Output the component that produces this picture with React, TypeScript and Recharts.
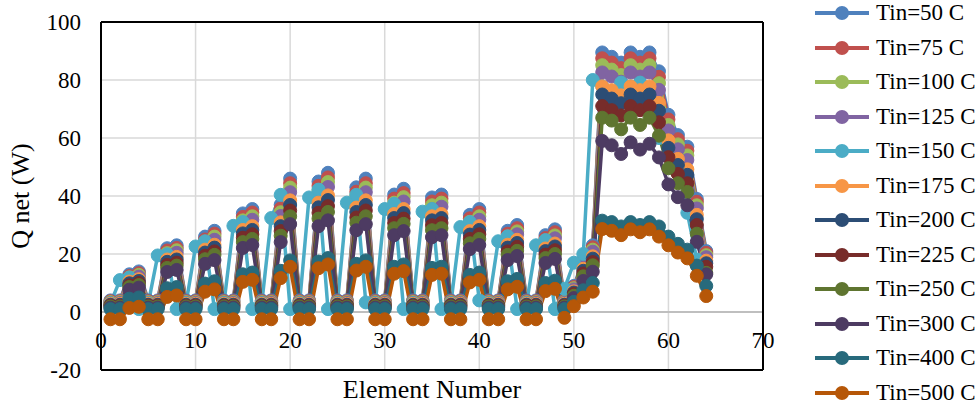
import { CartesianGrid, Legend, Line, LineChart, ReferenceLine, XAxis, YAxis } from "recharts";

const FONT = '"Liberation Serif", "Times New Roman", serif';

const elements = [
  1, 2, 3, 4, 5, 6, 7, 8, 9, 10, 11, 12, 13, 14, 15, 16, 17, 18, 19, 20, 21, 22, 23, 24, 25, 26, 27, 28, 29, 30, 31, 32,
  33, 34, 35, 36, 37, 38, 39, 40, 41, 42, 43, 44, 45, 46, 47, 48, 49, 50, 51, 52, 53, 54, 55, 56, 57, 58, 59, 60, 61, 62,
  63, 64,
];

const tin50 = [
  4, 4, 13, 14, 4, 4, 22, 23, 4, 4, 26, 28, 4, 4, 34, 35.5, 4, 4, 37, 46, 4, 4, 45, 48, 4, 4, 43, 46, 4, 4, 40.5, 42.5,
  4, 4, 39.5, 40.5, 4, 4, 33.5, 35.5, 4, 4, 28, 30, 4, 4, 26.5, 28.5, 4, 9, 18, 23, 89.5, 88, 86, 89.5, 88, 89.5, 83, 68,
  61, 57, 39, 21,
];
const tin75 = [
  3.7, 3.7, 12.4, 13.4, 3.7, 3.7, 21.2, 22.1, 3.7, 3.7, 25.0, 27.0, 3.7, 3.7, 32.8, 34.3, 3.7, 3.7, 35.7, 44.4, 3.7, 3.7,
  43.5, 46.4, 3.7, 3.7, 41.5, 44.4, 3.7, 3.7, 39.1, 41.0, 3.7, 3.7, 38.1, 39.1, 3.7, 3.7, 32.3, 34.3, 3.7, 3.7, 27.0,
  28.9, 3.7, 3.7, 25.5, 27.5, 3.7, 8.6, 17.4, 22.3, 87.5, 86.0, 84.1, 87.5, 86.0, 87.5, 81.1, 66.4, 59.6, 55.6, 38.0, 20.4,
];
const tin100 = [
  3.4, 3.4, 11.9, 12.8, 3.4, 3.4, 20.3, 21.3, 3.4, 3.4, 24.1, 26.0, 3.4, 3.4, 31.6, 33.0, 3.4, 3.4, 34.4, 42.9, 3.4, 3.4,
  41.9, 44.8, 3.4, 3.4, 40.1, 42.9, 3.4, 3.4, 37.7, 39.6, 3.4, 3.4, 36.8, 37.7, 3.4, 3.4, 31.1, 33.0, 3.4, 3.4, 26.0,
  27.8, 3.4, 3.4, 24.6, 26.4, 3.4, 8.2, 16.8, 21.5, 85.1, 83.6, 81.7, 85.1, 83.6, 85.1, 78.9, 64.5, 57.8, 54.0, 36.8, 19.6,
];
const tin125 = [
  3.1, 3.1, 11.3, 12.2, 3.1, 3.1, 19.5, 20.4, 3.1, 3.1, 23.1, 24.9, 3.1, 3.1, 30.4, 31.8, 3.1, 3.1, 33.1, 41.3, 3.1, 3.1,
  40.4, 43.1, 3.1, 3.1, 38.6, 41.3, 3.1, 3.1, 36.3, 38.1, 3.1, 3.1, 35.4, 36.3, 3.1, 3.1, 30.0, 31.8, 3.1, 3.1, 24.9,
  26.8, 3.1, 3.1, 23.6, 25.4, 3.1, 7.8, 16.1, 20.8, 82.6, 81.2, 79.4, 82.6, 81.2, 82.6, 76.6, 62.6, 56.1, 52.4, 35.7, 18.9,
];
// this run sits one element to the left of the others
const tin150 = [
  3, 11.0, 11.9, 1, 3, 19.5, 19.9, 1, 3, 22.6, 24.4, 1, 3, 29.7, 31.0, 1, 3, 32.4, 40.4, 1, 3, 39.5, 42.2, 1, 3, 37.7,
  40.4, 3.3, 3, 35.5, 37.3, 1, 3, 34.6, 35.5, 1, 3, 29.3, 31.0, 4, 3, 24.4, 26.1, 1, 3, 23.0, 24.8, 1, 8, 17, 20, 80, 77.8,
  76.0, 79.1, 77.8, 79.1, 73.3, 60.0, 53.7, 50.2, 34.2, 18.1, null,
];
const tin175 = [
  2.8, 2.8, 10.5, 11.3, 2.8, 2.8, 18.1, 19.0, 2.8, 2.8, 21.5, 23.2, 2.8, 2.8, 28.3, 29.6, 2.8, 2.8, 30.9, 38.5, 2.8, 2.8,
  37.7, 40.2, 2.8, 2.8, 36.0, 38.5, 2.8, 2.8, 33.8, 35.5, 2.8, 2.8, 33.0, 33.8, 2.8, 2.8, 27.9, 29.6, 2.8, 2.8, 23.2,
  24.9, 2.8, 2.8, 21.9, 23.6, 2.8, 7.1, 14.9, 19.2, 77.8, 76.5, 74.7, 77.8, 76.5, 77.8, 72.1, 59.2, 52.8, 49.2, 33.5, 17.7,
];
const tin200 = [
  2.5, 2.5, 9.9, 10.7, 2.5, 2.5, 17.3, 18.1, 2.5, 2.5, 20.5, 22.2, 2.5, 2.5, 27.1, 28.3, 2.5, 2.5, 29.6, 36.9, 2.5, 2.5,
  36.1, 38.6, 2.5, 2.5, 34.5, 36.9, 2.5, 2.5, 32.4, 34.1, 2.5, 2.5, 31.6, 32.4, 2.5, 2.5, 26.7, 28.3, 2.5, 2.5, 22.2,
  23.8, 2.5, 2.5, 21.0, 22.6, 2.5, 6.7, 14.2, 18.4, 75.0, 73.6, 72.0, 75.0, 73.6, 75.0, 69.4, 56.6, 50.7, 47.3, 32.0, 16.8,
];
const tin225 = [
  2.2, 2.2, 9.2, 10.0, 2.2, 2.2, 16.2, 17.0, 2.2, 2.2, 19.4, 20.9, 2.2, 2.2, 25.6, 26.8, 2.2, 2.2, 27.9, 35.0, 2.2, 2.2,
  34.2, 36.5, 2.2, 2.2, 32.6, 35.0, 2.2, 2.2, 30.7, 32.2, 2.2, 2.2, 29.9, 30.7, 2.2, 2.2, 25.2, 26.8, 2.2, 2.2, 20.9,
  22.5, 2.2, 2.2, 19.8, 21.3, 2.2, 6.2, 13.3, 17.2, 71.0, 69.6, 67.8, 71.0, 69.6, 71.0, 65.4, 53.4, 47.6, 44.4, 30.0, 15.6,
];
const tin250 = [
  1.9, 1.9, 8.6, 9.3, 1.9, 1.9, 15.2, 16.0, 1.9, 1.9, 18.2, 19.7, 1.9, 1.9, 24.1, 25.2, 1.9, 1.9, 26.3, 33.0, 1.9, 1.9,
  32.2, 34.5, 1.9, 1.9, 30.8, 33.0, 1.9, 1.9, 28.9, 30.4, 1.9, 1.9, 28.2, 28.9, 1.9, 1.9, 23.7, 25.2, 1.9, 1.9, 19.7,
  21.1, 1.9, 1.9, 18.6, 20.0, 1.9, 5.6, 12.3, 16.1, 67.0, 66.0, 63.0, 67.0, 64.5, 67.0, 60.8, 49.6, 44.4, 41.4, 27.0, 13.5,
];
const tin300 = [
  1.5, 1.5, 7.7, 8.4, 1.5, 1.5, 13.8, 14.5, 1.5, 1.5, 16.6, 17.9, 1.5, 1.5, 22.1, 23.1, 1.5, 1.5, 24.1, 30.3, 1.5, 1.5,
  29.6, 31.6, 1.5, 1.5, 28.2, 30.3, 1.5, 1.5, 26.5, 27.9, 1.5, 1.5, 25.8, 26.5, 1.5, 1.5, 21.7, 23.1, 1.5, 1.5, 17.9,
  19.3, 1.5, 1.5, 16.9, 18.3, 1.5, 4.8, 10.7, 13.9, 59.0, 57.5, 54.5, 58.5, 56.0, 58.0, 53.3, 44.0, 39.6, 36.8, 24.2, 13.0,
];
const tin400 = [
  1, 1, 4.6, 5.0, 1, 1, 8.2, 8.6, 1, 1, 9.8, 10.6, 1, 1, 13.0, 13.6, 1, 1, 14.2, 17.8, 1, 1, 17.4, 18.6, 1, 1, 16.6, 17.8,
  1, 1, 15.6, 16.4, 1, 1, 15.2, 15.6, 1, 1, 12.8, 13.6, 1, 1, 10.6, 11.4, 1, 1, 10.0, 10.8, 1, 3.5, 7.5, 10, 31.5, 31.0,
  29.5, 31.0, 30.0, 31.0, 29.5, 26.0, 23.5, 21.5, 16.0, 9.0,
];
const tin500 = [
  -2.5, -2.5, 1.4, 1.8, -2.5, -2.5, 5.2, 5.7, -2.5, -2.5, 7.0, 7.8, -2.5, -2.5, 10.4, 11.1, -2.5, -2.5, 11.7, 15.6, -2.5,
  -2.5, 15.1, 16.4, -2.5, -2.5, 14.3, 15.6, -2.5, -2.5, 13.2, 14.1, -2.5, -2.5, 12.8, 13.2, -2.5, -2.5, 10.2, 11.1, -2.5,
  -2.5, 7.8, 8.7, -2.5, -2.5, 7.2, 8.0, -2, 2, 5, 7, 28.6, 28.0, 26.5, 28.5, 27.5, 28.5, 26.0, 23.0, 20.5, 18.5, 12.5, 5.5,
];

const xTicks = [0, 10, 20, 30, 40, 50, 60, 70];
const yTicks = [-20, 0, 20, 40, 60, 80, 100];

const series = [
  { key: "t50", label: "Tin=50 C", color: "#4F81BD", values: tin50 },
  { key: "t75", label: "Tin=75 C", color: "#C0504D", values: tin75 },
  { key: "t100", label: "Tin=100 C", color: "#9BBB59", values: tin100 },
  { key: "t125", label: "Tin=125 C", color: "#8064A2", values: tin125 },
  { key: "t150", label: "Tin=150 C", color: "#4BACC6", values: tin150 },
  { key: "t175", label: "Tin=175 C", color: "#F79646", values: tin175 },
  { key: "t200", label: "Tin=200 C", color: "#2C4D75", values: tin200 },
  { key: "t225", label: "Tin=225 C", color: "#772C2A", values: tin225 },
  { key: "t250", label: "Tin=250 C", color: "#5F7530", values: tin250 },
  { key: "t300", label: "Tin=300 C", color: "#4D3B62", values: tin300 },
  { key: "t400", label: "Tin=400 C", color: "#276A7C", values: tin400 },
  { key: "t500", label: "Tin=500 C", color: "#B65708", values: tin500 },
];

const data = elements.map((element, i) => {
  const row: Record<string, number | null> = { element };
  series.forEach((s) => {
    row[s.key] = s.values[i] ?? null;
  });
  return row;
});

const XTick = ({ x, y, payload }: any) => (
  <text x={x} y={y - 22} textAnchor="middle" fontSize={23} fontFamily={FONT} fill="#000">
    {payload.value}
  </text>
);

const LegendContent = () => (
  <div style={{ fontFamily: FONT, fontSize: 23, color: "#000" }}>
    {series.map((s) => (
      <div key={s.key} style={{ height: 34.5, display: "flex", alignItems: "center" }}>
        <svg width={56} height={16}>
          <line x1={1} y1={8} x2={55} y2={8} stroke={s.color} strokeWidth={4} />
          <circle cx={28} cy={8} r={7} fill={s.color} />
        </svg>
        <span style={{ marginLeft: 6, whiteSpace: "nowrap" }}>{s.label}</span>
      </div>
    ))}
  </div>
);

export default function App() {
  return (
    <div style={{ position: "absolute", left: 0, top: 0, width: 980, height: 407, background: "#fff" }}>
      <LineChart width={980} height={407} data={data} margin={{ top: 22, right: 217, bottom: 0, left: 30 }}>
        <CartesianGrid stroke="#d9d9d9" strokeWidth={1.5} />
        <XAxis
          dataKey="element"
          type="number"
          domain={[0, 70]}
          ticks={xTicks}
          height={37}
          axisLine={false}
          tickLine={false}
          tickSize={0}
          tickMargin={0}
          tick={<XTick />}
          interval={0}
          label={{
            content: ({ viewBox }: any) => (
              <text
                x={viewBox.x + viewBox.width / 2}
                y={viewBox.y + 28}
                textAnchor="middle"
                fontSize={26}
                fontFamily={FONT}
                fill="#000"
              >
                Element Number
              </text>
            ),
          }}
        />
        <YAxis
          type="number"
          domain={[-20, 100]}
          ticks={yTicks}
          width={71}
          axisLine={false}
          tickLine={false}
          tickSize={0}
          tickMargin={20}
          interval={0}
          tick={{ fontSize: 23, fontFamily: FONT, fill: "#000" }}
          label={{
            content: ({ viewBox }: any) => {
              const cx = viewBox.x - 1;
              const cy = viewBox.y + viewBox.height / 2;
              return (
                <text
                  x={cx}
                  y={cy}
                  transform={`rotate(-90, ${cx}, ${cy})`}
                  textAnchor="middle"
                  fontSize={26}
                  fontFamily={FONT}
                  fill="#000"
                >
                  Q net (W)
                </text>
              );
            },
          }}
        />
        <ReferenceLine y={0} stroke="#bfbfbf" strokeWidth={2} />
        <ReferenceLine y={100} stroke="#000" strokeWidth={2} />
        <ReferenceLine y={-20} stroke="#000" strokeWidth={2} />
        <ReferenceLine x={0} stroke="#000" strokeWidth={2} />
        <ReferenceLine x={70} stroke="#000" strokeWidth={2} />
        {series.map((s) => (
          <Line
            key={s.key}
            dataKey={s.key}
            name={s.label}
            type="linear"
            stroke={s.color}
            strokeWidth={3.5}
            dot={{ r: 6.5, fill: s.color, stroke: s.color, strokeWidth: 1 }}
            activeDot={false}
            isAnimationActive={false}
          />
        ))}
        <Legend
          layout="vertical"
          align="center"
          verticalAlign="middle"
          content={<LegendContent />}
          wrapperStyle={{ left: 814, top: -4, width: 166, height: 414 }}
        />
      </LineChart>
    </div>
  );
}
